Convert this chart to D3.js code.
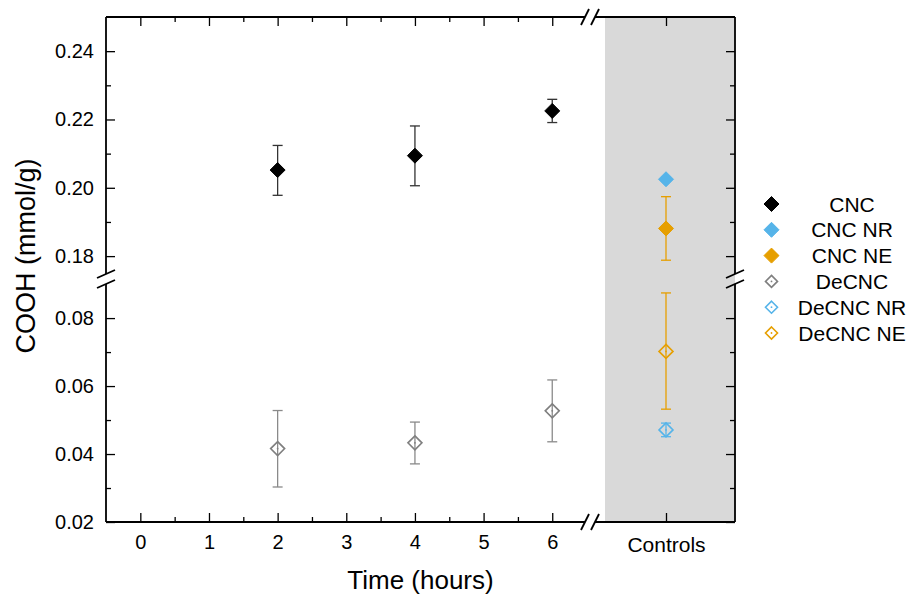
<!DOCTYPE html>
<html>
<head>
<meta charset="utf-8">
<script src="https://cdn.jsdelivr.net/npm/d3@7"></script>
<style>
	body { margin: 0; background: #fff; }
	text { font-family: "Liberation Sans", Arial, sans-serif; fill: #000; }
	.tick line { stroke: #000; stroke-width: 1.3; }
	.tick text { font-size: 20px; }
	.frame { stroke: #000; stroke-width: 1.8; fill: none; }
</style>
</head>
<body>
<div class="canvas"></div>
<script>

// DATA
var hours = [2, 4, 6];
var cncMean = [0.2052, 0.2094, 0.2225];
var cncLow = [0.1978, 0.2006, 0.2191];
var cncHigh = [0.2124, 0.2181, 0.2259];
var decncMean = [0.0416, 0.0433, 0.0527];
var decncLow = [0.0303, 0.0371, 0.0436];
var decncHigh = [0.0528, 0.0494, 0.0618];

var controlNames = ["CNC NR", "CNC NE", "DeCNC NR", "DeCNC NE"];
var controlMean = [0.2025, 0.1881, 0.0471, 0.0702];
var controlLow = [0.2019, 0.1788, 0.0451, 0.0532];
var controlHigh = [0.2031, 0.1974, 0.0491, 0.0874];

var legendNames = ["CNC", "CNC NR", "CNC NE", "DeCNC", "DeCNC NR", "DeCNC NE"];
var xTicks = [0, 1, 2, 3, 4, 5, 6];
var xMinor = [0.5, 1.5, 2.5, 3.5, 4.5, 5.5];
var yTopTicks = [0.18, 0.20, 0.22, 0.24];
var yTopMinor = [0.19, 0.21, 0.23];
var yBotTicks = [0.02, 0.04, 0.06, 0.08];
var yBotMinor = [0.03, 0.05, 0.07];

// STYLES
var color = {
	"CNC": "#000000", "CNC NR": "#56b4e9", "CNC NE": "#e69f00",
	"DeCNC": "#7f7f7f", "DeCNC NR": "#56b4e9", "DeCNC NE": "#e69f00"
};
var barColor = {
	"CNC": "#333333", "CNC NR": "#56b4e9", "CNC NE": "#e69f00",
	"DeCNC": "#8a8a8a", "DeCNC NR": "#56b4e9", "DeCNC NE": "#e69f00"
};
var filled = function(name){ return name.indexOf("DeCNC") !== 0; };

var svg = d3.select(".canvas")
				.append("svg")
				.attr("width", 918)
				.attr("height", 597);

var pLeft = 106, pRight = 735, pTop = 17, pBottom = 522;
var breakX = 590, breakY = 279;

var x = d3.scaleLinear().domain([-0.5, 6.55]).range([pLeft, breakX]);
var xCtrl = d3.scalePoint().domain(["Controls"]).range([597, pRight]).padding(0.5);
var yTop = d3.scaleLinear().domain([0.1733, 0.25]).range([breakY, pTop]);
var yBot = d3.scaleLinear().domain([0.02, 0.0915]).range([pBottom, breakY]);
var y = function(v){ return v > 0.13 ? yTop(v) : yBot(v); };

// CONTROLS BACKGROUND
svg.append("rect")
	.attr("x", 605)
	.attr("y", pTop)
	.attr("width", pRight - 605)
	.attr("height", pBottom - pTop)
	.attr("fill", "#d9d9d9");

// AXES
function ticks(axis, tx, ty){
	var g = svg.append("g").attr("transform", "translate(" + tx + "," + ty + ")").call(axis);
	g.select(".domain").remove();
	return g;
}

ticks(d3.axisLeft(yTop).tickValues(yTopTicks).tickSize(-9).tickPadding(12).tickFormat(d3.format(".2f")), pLeft, 0);
ticks(d3.axisLeft(yBot).tickValues(yBotTicks).tickSize(-9).tickPadding(12).tickFormat(d3.format(".2f")), pLeft, 0);
ticks(d3.axisLeft(yTop).tickValues(yTopMinor).tickSize(-5).tickFormat(""), pLeft, 0);
ticks(d3.axisLeft(yBot).tickValues(yBotMinor).tickSize(-5).tickFormat(""), pLeft, 0);

ticks(d3.axisRight(yTop).tickValues(yTopTicks).tickSize(-9).tickFormat(""), pRight, 0);
ticks(d3.axisRight(yBot).tickValues(yBotTicks).tickSize(-9).tickFormat(""), pRight, 0);
ticks(d3.axisRight(yTop).tickValues(yTopMinor).tickSize(-5).tickFormat(""), pRight, 0);
ticks(d3.axisRight(yBot).tickValues(yBotMinor).tickSize(-5).tickFormat(""), pRight, 0);

ticks(d3.axisBottom(x).tickValues(xTicks).tickSize(-9).tickPadding(13).tickFormat(d3.format("d")), 0, pBottom);
ticks(d3.axisBottom(x).tickValues(xMinor).tickSize(-5).tickFormat(""), 0, pBottom);
ticks(d3.axisBottom(xCtrl).tickSize(-9).tickPadding(15), 0, pBottom)
	.selectAll("text").style("font-size", "21px");

ticks(d3.axisTop(x).tickValues(xTicks).tickSize(-9).tickFormat(""), 0, pTop);
ticks(d3.axisTop(x).tickValues(xMinor).tickSize(-5).tickFormat(""), 0, pTop);
ticks(d3.axisTop(xCtrl).tickSize(-9).tickFormat(""), 0, pTop);

// FRAME WITH BREAKS
var gap = 5;
[pLeft, pRight].forEach(function(fx){
	svg.append("line").attr("class", "frame").attr("x1", fx).attr("x2", fx).attr("y1", pTop).attr("y2", breakY - gap);
	svg.append("line").attr("class", "frame").attr("x1", fx).attr("x2", fx).attr("y1", breakY + gap).attr("y2", pBottom);
	[-gap, gap].forEach(function(o){
		svg.append("line").attr("class", "frame")
			.attr("x1", fx - 9).attr("y1", breakY + o + 4)
			.attr("x2", fx + 9).attr("y2", breakY + o - 4);
	});
});
[pTop, pBottom].forEach(function(fy){
	svg.append("line").attr("class", "frame").attr("x1", pLeft).attr("x2", breakX - gap).attr("y1", fy).attr("y2", fy);
	svg.append("line").attr("class", "frame").attr("x1", breakX + gap).attr("x2", pRight).attr("y1", fy).attr("y2", fy);
	[-gap, gap].forEach(function(o){
		svg.append("line").attr("class", "frame")
			.attr("x1", breakX + o - 4).attr("y1", fy + 8)
			.attr("x2", breakX + o + 4).attr("y2", fy - 8);
	});
});

// AXIS TITLES
svg.append("text")
	.attr("x", (pLeft + pRight) / 2)
	.attr("y", 589)
	.attr("text-anchor", "middle")
	.style("font-size", "26px")
	.text("Time (hours)");

svg.append("text")
	.attr("transform", "translate(35,256) rotate(-90)")
	.attr("text-anchor", "middle")
	.style("font-size", "27px")
	.text("COOH (mmol/g)");

// MARKERS
function diamond(g, name, cx, cy, r){
	g.append("path")
		.attr("d", "M" + cx + "," + (cy - r) + "L" + (cx + r) + "," + cy + "L" + cx + "," + (cy + r) + "L" + (cx - r) + "," + cy + "Z")
		.attr("fill", filled(name) ? color[name] : "none")
		.attr("stroke", color[name])
		.attr("stroke-width", filled(name) ? 1 : 1.6);
	if (!filled(name)) {
		g.append("circle").attr("cx", cx).attr("cy", cy).attr("r", 0.9).attr("fill", color[name]);
	}
}

function errorBar(g, name, cx, lo, hi){
	g.append("line").attr("x1", cx).attr("x2", cx).attr("y1", y(lo)).attr("y2", y(hi))
		.attr("stroke", barColor[name]).attr("stroke-width", 1.3);
	[lo, hi].forEach(function(v){
		g.append("line").attr("x1", cx - 5).attr("x2", cx + 5).attr("y1", y(v)).attr("y2", y(v))
			.attr("stroke", barColor[name]).attr("stroke-width", 1.3);
	});
}

var marks = svg.append("g");

hours.forEach(function(h, i){
	errorBar(marks, "CNC", x(h), cncLow[i], cncHigh[i]);
	diamond(marks, "CNC", x(h), y(cncMean[i]), 7.5);
	errorBar(marks, "DeCNC", x(h), decncLow[i], decncHigh[i]);
	diamond(marks, "DeCNC", x(h), y(decncMean[i]), 7);
});

controlNames.forEach(function(name, i){
	var cx = xCtrl("Controls");
	errorBar(marks, name, cx, controlLow[i], controlHigh[i]);
	diamond(marks, name, cx, y(controlMean[i]), filled(name) ? 7.5 : 7);
});

// LEGEND
var legend = svg.append("g");
var legendY = d3.scalePoint().domain(legendNames).range([204, 333]);

legendNames.forEach(function(name){
	diamond(legend, name, 771.5, legendY(name), filled(name) ? 7.5 : 6);
	legend.append("text")
		.attr("x", 852)
		.attr("y", legendY(name))
		.attr("dy", "0.36em")
		.attr("text-anchor", "middle")
		.style("font-size", "21px")
		.text(name);
});

</script>
</body>
</html>
